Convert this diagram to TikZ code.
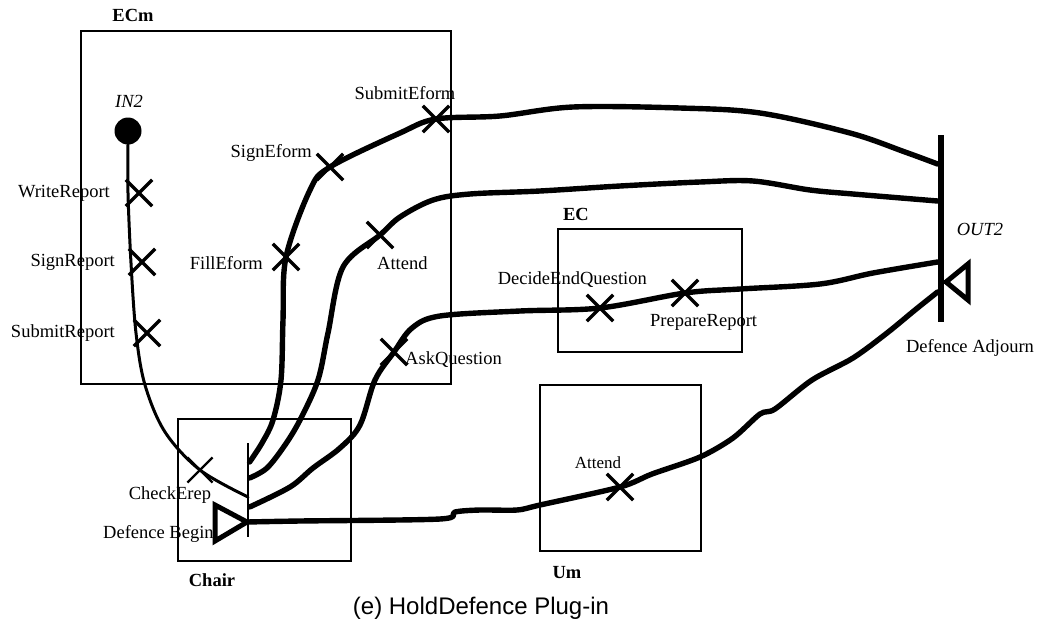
\documentclass[tikz,border=0pt]{standalone}
\usepackage{fontspec}
\setmainfont{Liberation Serif}
\newfontfamily\capfont{Liberation Sans}
\usetikzlibrary{shapes.misc}
\begin{document}
\begin{tikzpicture}[x=1pt,y=-1pt,
  lbl/.style={font=\fontsize{18.5}{20}\selectfont, inner sep=0pt},
  boxlbl/.style={font=\fontsize{18.5}{20}\selectfont\bfseries, inner sep=0pt},
  portlbl/.style={font=\fontsize{18.5}{20}\selectfont\itshape, inner sep=0pt},
  compbox/.style={draw, line width=1.6pt, rectangle, inner sep=0pt},
  xmark/.style={cross out, draw, minimum size=23pt, inner sep=0pt, line width=3.4pt},
  conn/.style={line width=5.4pt, line cap=round, line join=round},
  thinconn/.style={line width=3pt, line cap=round, line join=round},
  tri/.style={draw, line width=5pt, fill=white, line join=miter}]
\useasboundingbox (0,0) rectangle (1044,632);

% component boxes
\node[compbox, minimum width=370pt, minimum height=353pt] (ecm) at (266,207.5) {};
\node[compbox, minimum width=173pt, minimum height=142pt] (chair) at (264.5,490) {};
\node[compbox, minimum width=184pt, minimum height=123pt] (ec) at (650,290.5) {};
\node[compbox, minimum width=161pt, minimum height=166pt] (um) at (620.5,468) {};
\node[boxlbl] (ecmlbl) at (133,15) {ECm};
\node[boxlbl] (chairlbl) at (212,580) {Chair};
\node[boxlbl] (eclbl) at (576,214) {EC};
\node[boxlbl] (umlbl) at (567,573) {Um};

% ports
\node[circle, fill, minimum size=27pt, inner sep=0pt] (in2) at (128,131) {};
\node[portlbl] (in2lbl) at (129,101) {IN2};
\node[fill, minimum width=6.5pt, minimum height=187pt, inner sep=0pt] (out2) at (941,228.5) {};
\node[portlbl] (out2lbl) at (980,229) {OUT2};
\node[fill, minimum width=2.8pt, minimum height=94pt, inner sep=0pt] (cbar) at (248,490) {};

% activity markers
\node[xmark] (wr) at (139,193) {};
\node[xmark] (sr) at (142,262) {};
\node[xmark] (smr) at (147,333) {};
\node[xmark, line width=2.2pt] (ce) at (200,470) {};
\node[xmark] (fe) at (286,257) {};
\node[xmark] (se) at (330,167) {};
\node[xmark] (sme) at (436,119) {};
\node[xmark] (att1) at (380,235) {};
\node[xmark] (aq) at (394,352) {};
\node[xmark] (deq) at (600,308) {};
\node[xmark] (pr) at (685,293) {};
\node[xmark] (att2) at (620,487) {};

% activity labels
\node[lbl, anchor=east] (wrlbl) at (110,193) {WriteReport};
\node[lbl, anchor=east] (srlbl) at (115,262) {SignReport};
\node[lbl, anchor=east] (smrlbl) at (115,333) {SubmitReport};
\node[lbl] (celbl) at (170,495) {CheckErep};
\node[lbl, anchor=east] (selbl) at (312,153) {SignEform};
\node[lbl] (smelbl) at (405,93) {SubmitEform};
\node[lbl, anchor=east] (felbl) at (263,263) {FillEform};
\node[lbl, anchor=west] (att1lbl) at (377,263) {Attend};
\node[lbl, anchor=west] (aqlbl) at (405,360) {AskQuestion};
\node[lbl, anchor=east] (deqlbl) at (647,280) {DecideEndQuestion};
\node[lbl, anchor=west] (prlbl) at (650,322) {PrepareReport};
\node[lbl, font=\fontsize{17}{20}\selectfont] (att2lbl) at (598,463) {Attend};
\node[lbl] (dalbl) at (970,348) {Defence Adjourn};
\node[lbl, anchor=west] (dblbl) at (103,534) {Defence Begin};

% connectors
\draw[thinconn] plot[smooth, tension=0.55] coordinates {(in2.south) (128,193) (131,263) (136,333) (145,385) (165,432) (ce) (cbar |- 0,497)};
\draw[conn] plot[smooth, tension=0.55] coordinates {(cbar.east |- 0,462) (262,443) (273,420) (281,380) (283,320) (fe) (310,190) (se) (400,133) (sme) (500,116) (573,107) (680,108) (760,113) (850,133) (905,152) (out2.west |- 0,164)};
\draw[conn] plot[smooth, tension=0.55] coordinates {(cbar.east |- 0,478) (267,468) (285,445) (300,420) (318,380) (328,333) (343,267) (att1) (400,217) (433,200) (470,194) (540,191) (620,186) (700,182) (753,181) (810,190) (853,194) (out2.west |- 0,201)};
\draw[conn] plot[smooth, tension=0.55] coordinates {(cbar.east |- 0,507) (290,487) (313,468) (340,448) (360,425) (375,380) (aq) (412,328) (440,316) (520,311) (deq) (pr) (740,289) (820,284) (873,273) (out2.west |- 0,262)};
\coordinate (dbtip) at (247,522);
\coordinate (datip) at (946,282);
\draw[conn] plot[smooth, tension=0.5] coordinates {(dbtip) (300,521) (440,519) (455,512) (480,510) (517,510) (540,505) (att2) (652,474) (700,457) (733,438) (760,414) (775,409) (812,380) (853,358) (887,333) (915,310) (out2.west |- 0,292)};

% start / end triangles
\draw[tri] (dbtip) -- ++(-32,-17) -- ++(0,36) -- cycle;
\draw[tri] (datip) -- ++(22,-18) -- ++(0,36) -- cycle;

% caption
\node[font=\capfont\fontsize{24}{28}\selectfont, inner sep=0pt] (cap) at (481,608) {(e) HoldDefence Plug-in};
\end{tikzpicture}
\end{document}
